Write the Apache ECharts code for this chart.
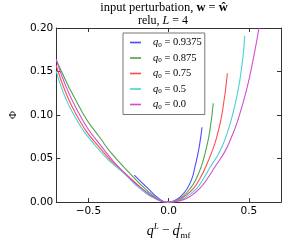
<!DOCTYPE html>
<html><head><meta charset="utf-8">
<script src="https://cdn.jsdelivr.net/npm/echarts@6/dist/echarts.min.js"></script>
<style>html,body{margin:0;padding:0;background:#fff}#c{width:285px;height:245px}</style>
</head><body><div id="c"></div>
<script>
const xTicks = [-0.5, 0, 0.5];
const yTicks = [0, 0.05, 0.10, 0.15, 0.20];
const q0Labels = ['0.9375', '0.875', '0.75', '0.5', '0.0'];
const colors = ['#4d4dff', '#4da64d', '#ff4d4d', '#4dd2d2', '#d24dd2'];

const q09375 = [[-0.214,0.031],[-0.129,0.0157],[-0.06,0.004],[0,0],[0.04,0.002],[0.076,0.0066],[0.116,0.0157],[0.145,0.027],[0.165,0.0414],[0.185,0.058],[0.2,0.075],[0.208,0.086]];
const q0875 = [[-0.70,0.163],[-0.535,0.102],[-0.424,0.073],[-0.365,0.058],[-0.228,0.0304],[-0.149,0.0157],[-0.07,0.004],[0,0],[0.05,0.002],[0.09,0.0066],[0.135,0.0157],[0.17,0.026],[0.204,0.0414],[0.232,0.06],[0.255,0.08],[0.278,0.1135]];
const q075 = [[-0.70,0.157],[-0.58,0.102],[-0.40,0.056],[-0.25,0.0295],[-0.165,0.0155],[-0.08,0.004],[0,0],[0.06,0.002],[0.10,0.0066],[0.155,0.0157],[0.195,0.027],[0.233,0.0414],[0.27,0.058],[0.30,0.075],[0.335,0.104],[0.366,0.148]];
const q05 = [[-0.70,0.1505],[-0.596,0.102],[-0.414,0.056],[-0.263,0.0304],[-0.18,0.0157],[-0.085,0.004],[0,0],[0.07,0.002],[0.115,0.0066],[0.175,0.0157],[0.22,0.028],[0.263,0.0414],[0.31,0.055],[0.351,0.072],[0.386,0.092],[0.429,0.125],[0.46,0.162],[0.474,0.191]];
const q00 = [[-0.70,0.164],[-0.571,0.106],[-0.394,0.058],[-0.251,0.029],[-0.169,0.0157],[-0.08,0.004],[0,0],[0.08,0.002],[0.135,0.0066],[0.194,0.0157],[0.245,0.028],[0.292,0.0414],[0.35,0.058],[0.39,0.074],[0.433,0.095],[0.488,0.131],[0.531,0.168],[0.563,0.2]];
const seriesData = [q09375, q0875, q075, q05, q00];

const serif = 'Liberation Serif';
const sans = 'DejaVu Sans';
const axisColor = '#333';

const chart = echarts.init(document.getElementById('c'), null, {renderer: 'canvas'});

function fmtX(v) {
  const s = Math.abs(v).toFixed(1);
  return v < 0 ? '\u2212' + s : s;
}

const baseX = {
  type: 'value', min: -0.7, max: 0.7,
  axisLine: {show: true, onZero: false, lineStyle: {color: axisColor, width: 1}},
  axisTick: {show: true, inside: true, length: 4, customValues: xTicks, lineStyle: {color: axisColor}},
  splitLine: {show: false}
};
const baseY = {
  type: 'value', min: 0, max: 0.2, interval: 0.05,
  axisLine: {show: true, onZero: false, lineStyle: {color: axisColor, width: 1}},
  axisTick: {show: true, inside: true, length: 4, lineStyle: {color: axisColor}},
  splitLine: {show: false}
};

chart.setOption({
  animation: false,
  grid: {left: 45, right: 4, top: 28, bottom: 34, containLabel: false},
  xAxis: [
    Object.assign({}, baseX, {
      position: 'bottom',
      axisLabel: {customValues: xTicks, formatter: fmtX, fontFamily: sans, fontSize: 10.5, color: '#000', margin: 4},
      name: '{q|q}{sup|L}{op| \u2212 }{q|q}{sup2|L}{sub|mf}',
      nameLocation: 'middle', nameGap: 14,
      nameTextStyle: {
        color: '#000',
        rich: {
          q: {fontFamily: serif, fontStyle: 'italic', fontSize: 14, lineHeight: 18, verticalAlign: 'middle'},
          op: {fontFamily: serif, fontSize: 13, lineHeight: 18, verticalAlign: 'middle'},
          sup: {fontFamily: serif, fontStyle: 'italic', fontSize: 9, verticalAlign: 'top', lineHeight: 18},
          sup2: {fontFamily: serif, fontStyle: 'italic', fontSize: 9, verticalAlign: 'top', lineHeight: 18, width: 1, align: 'left'},
          sub: {fontFamily: serif, fontSize: 9, verticalAlign: 'bottom', lineHeight: 18}
        }
      }
    }),
    Object.assign({}, baseX, {position: 'top', axisLabel: {show: false}})
  ],
  yAxis: [
    Object.assign({}, baseY, {
      position: 'left',
      axisLabel: {formatter: v => v.toFixed(2), fontFamily: sans, fontSize: 10.5, color: '#000', margin: 3},
      name: '\u03A6', nameLocation: 'middle', nameGap: 32, nameRotate: 90,
      nameTextStyle: {fontFamily: serif, fontSize: 11, color: '#000'}
    }),
    Object.assign({}, baseY, {position: 'right', axisLabel: {show: false}})
  ],
  legend: {
    orient: 'vertical', left: 123, top: 33,
    backgroundColor: '#fff', borderColor: '#777', borderWidth: 1, borderRadius: 0,
    padding: [4, 3, 4, 7], itemGap: 4, itemWidth: 11, itemHeight: 10,
    icon: 'path://M0,4.5L10,4.5L10,6L0,6Z',
    data: q0Labels.map((l, i) => ({name: 'q0 = ' + l, itemStyle: {color: colors[i]}})),
    formatter: name => '{i|q}{s|0}{n| = ' + name.split('= ')[1] + '}',
    textStyle: {
      padding: [0, 0, 0, 7],
      rich: {
        i: {fontFamily: serif, fontStyle: 'italic', fontSize: 10.5, lineHeight: 12, verticalAlign: 'middle', color: '#000'},
        s: {fontFamily: serif, fontSize: 7, lineHeight: 12, verticalAlign: 'bottom', color: '#000'},
        n: {fontFamily: serif, fontSize: 10.5, lineHeight: 12, verticalAlign: 'middle', color: '#000'}
      }
    }
  },
  graphic: [
    {type: 'text', x: 164, y: 8, z: 10, style: {
      text: '{t|input perturbation, }{b|w}{t| = }{b|\u0175}',
      align: 'center', verticalAlign: 'middle',
      rich: {
        t: {fontFamily: serif, fontSize: 12.5, fill: '#000'},
        b: {fontFamily: serif, fontSize: 12.5, fontWeight: 'bold', fill: '#000'}
      }
    }},
    {type: 'text', x: 163, y: 20.5, z: 10, style: {
      text: '{t|relu, }{i|L}{t| = 4}',
      align: 'center', verticalAlign: 'middle',
      rich: {
        t: {fontFamily: serif, fontSize: 12, fill: '#000'},
        i: {fontFamily: serif, fontSize: 12, fontStyle: 'italic', fill: '#000'}
      }
    }}
  ],
  series: seriesData.map((d, i) => ({
    type: 'line', name: 'q0 = ' + q0Labels[i], data: d,
    xAxisIndex: 0, yAxisIndex: 0,
    showSymbol: false, symbol: 'none', smooth: 0.5,
    lineStyle: {color: colors[i], width: 1.1},
    itemStyle: {color: colors[i]},
    clip: true, z: 2 + i
  }))
});
</script></body></html>
